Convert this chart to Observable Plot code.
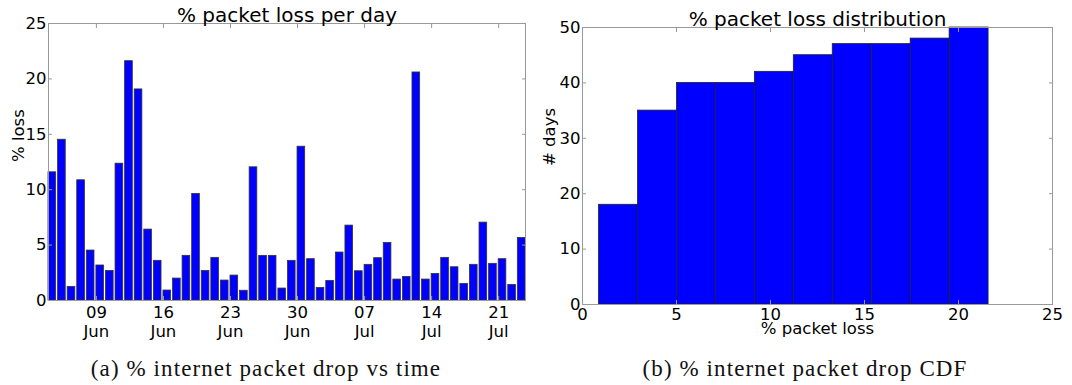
<!DOCTYPE html>
<html><head><meta charset="utf-8">
<script src="https://cdn.jsdelivr.net/npm/d3@7"></script>
<script src="https://cdn.jsdelivr.net/npm/@observablehq/plot@0.6"></script>
<style>
body{margin:0;background:#fff;}
#wrap{position:relative;width:1072px;height:385px;overflow:hidden;font-family:"DejaVu Sans";}
#a{position:absolute;left:0;top:0;}
#b{position:absolute;left:540px;top:0;}
.cap{position:absolute;font-family:"Liberation Serif";font-size:23px;letter-spacing:1.1px;line-height:1;white-space:nowrap;transform:translateX(-50%);color:#111;}
</style></head><body>
<div id="wrap"><div id="a"></div><div id="b"></div>
<div class="cap" style="left:266px;top:357px;">(a) % internet packet drop vs time</div>
<div class="cap" style="left:805px;top:357px;">(b) % internet packet drop CDF</div>
</div>
<script>
// ---- data ----
const startDate = "2013-06-04";
const lossPerDay = [
  11.57, 14.51, 1.23, 10.85, 4.51, 3.16, 2.67, 12.35, 21.6, 19.05,
  6.4, 3.58, 0.9, 1.98, 4.03, 9.62, 2.67, 3.85, 1.8, 2.25,
  0.88, 12.02, 4.03, 4.03, 1.08, 3.58, 13.88, 3.73, 1.14, 1.77,
  4.33, 6.76, 2.64, 3.22, 3.82, 5.2, 1.89, 2.13, 20.58, 1.89,
  2.4, 3.85, 3.0, 1.5, 3.22, 7.03, 3.31, 3.73, 1.41, 5.65
];
const dateTicks = ["2013-06-09","2013-06-16","2013-06-23","2013-06-30","2013-07-07","2013-07-14","2013-07-21"];
const lossTicks = [0, 5, 10, 15, 20, 25];
const histXTicks = [0, 5, 10, 15, 20, 25];
const histYTicks = [0, 10, 20, 30, 40, 50];
const histBinCount = 10;
const barWidthDays = 0.8;

// ---- derived tables ----
const DAY = 864e5;
const t0 = new Date(startDate + "T00:00:00Z");
const days = lossPerDay.map((v, i) => {
  const s = d3.utcDay.offset(t0, i);
  return {start: s, end: new Date(+s + barWidthDays * DAY), loss: v};
});
const tickDates = dateTicks.map(d => new Date(d + "T00:00:00Z"));
const xDomain = [days[0].start, days[days.length - 1].end];

const [lo, hi] = d3.extent(lossPerDay);
const thresholds = d3.range(1, histBinCount).map(i => lo + i * (hi - lo) / histBinCount);
const bins = d3.bin().domain([lo, hi]).thresholds(thresholds)(lossPerDay);
let acc = 0;
const cdf = bins.map(b => ({x0: b.x0, x1: b.x1, count: (acc += b.length)}));

const FS = 16.5;
const TS = 20;
const frameColor = "#999";

// ---- chart (a) ----
const chartA = Plot.plot({
  width: 540, height: 345,
  marginLeft: 48, marginRight: 15, marginTop: 23, marginBottom: 45,
  style: {fontFamily: "DejaVu Sans", fontSize: FS + "px", background: "transparent"},
  x: {type: "utc", domain: xDomain, label: null},
  y: {domain: [0, 25], label: null},
  marks: [
    Plot.rectY(days, {x1: "start", x2: "end", y: "loss", fill: "#0000ff", stroke: "#333", strokeWidth: 0.8}),
    Plot.frame({stroke: frameColor}),
    Plot.axisY({ticks: lossTicks, tickSize: 0, tickPadding: 2, label: null, fontSize: FS}),
    Plot.axisY({ticks: lossTicks, tickSize: -4, tickFormat: () => "", label: null, stroke: frameColor}),
    Plot.axisY({anchor: "right", ticks: lossTicks, tickSize: -4, tickFormat: () => "", label: null, stroke: frameColor}),
    Plot.axisX({ticks: tickDates, tickSize: 0, tickPadding: 4.3, tickFormat: d3.utcFormat("%d\n%b"), lineHeight: 1.15, label: null, fontSize: FS}),
    Plot.axisX({ticks: tickDates, tickSize: -4, tickFormat: () => "", label: null, stroke: frameColor}),
    Plot.axisX({anchor: "top", ticks: tickDates, tickSize: -4, tickFormat: () => "", label: null, stroke: frameColor}),
    Plot.text(["% packet loss per day"], {text: d => d, frameAnchor: "top", lineAnchor: "middle", dy: -7.9, fontSize: TS}),
    Plot.text(["% loss"], {text: d => d, frameAnchor: "left", lineAnchor: "middle", rotate: -90, dx: -30, fontSize: FS})
  ]
});
document.getElementById("a").appendChild(chartA);

// ---- chart (b) ----
const chartB = Plot.plot({
  width: 532, height: 345,
  marginLeft: 42, marginRight: 20, marginTop: 27, marginBottom: 41,
  style: {fontFamily: "DejaVu Sans", fontSize: FS + "px", background: "transparent"},
  x: {domain: [0, 25], label: null},
  y: {domain: [0, 50], label: null},
  marks: [
    Plot.rectY(cdf, {x1: "x0", x2: "x1", y: "count", fill: "#0000ff", stroke: "#222", strokeWidth: 0.8}),
    Plot.frame({stroke: frameColor}),
    Plot.axisY({ticks: histYTicks, tickSize: 0, tickPadding: 2, label: null, fontSize: FS}),
    Plot.axisY({ticks: histYTicks, tickSize: -4, tickFormat: () => "", label: null, stroke: frameColor}),
    Plot.axisY({anchor: "right", ticks: histYTicks, tickSize: -4, tickFormat: () => "", label: null, stroke: frameColor}),
    Plot.axisX({ticks: histXTicks, tickSize: 0, tickPadding: 4, label: null, fontSize: FS}),
    Plot.axisX({ticks: histXTicks, tickSize: -4, tickFormat: () => "", label: null, stroke: frameColor}),
    Plot.axisX({anchor: "top", ticks: histXTicks, tickSize: -4, tickFormat: () => "", label: null, stroke: frameColor}),
    Plot.text(["% packet loss distribution"], {text: d => d, frameAnchor: "top", lineAnchor: "middle", dy: -8.4, fontSize: TS}),
    Plot.text(["# days"], {text: d => d, frameAnchor: "left", lineAnchor: "middle", rotate: -90, dx: -33, fontSize: FS}),
    Plot.text(["% packet loss"], {text: d => d, frameAnchor: "bottom", lineAnchor: "middle", dy: 24.2, fontSize: FS})
  ]
});
document.getElementById("b").appendChild(chartB);
</script>
</body></html>
